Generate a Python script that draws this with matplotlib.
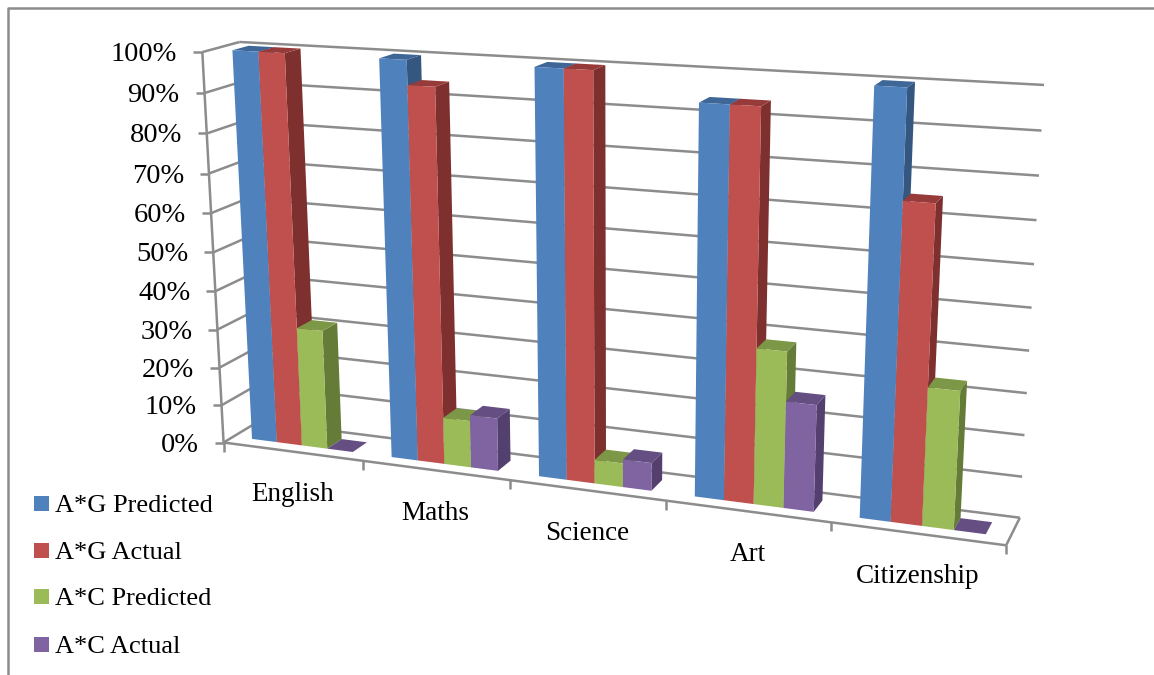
import matplotlib
matplotlib.use('Agg')
import matplotlib.pyplot as plt
from matplotlib.patches import Polygon, Rectangle
import numpy as np

plt.rcParams['font.family'] = ['Liberation Serif', 'DejaVu Serif']

categories = ['English', 'Maths', 'Science', 'Art', 'Citizenship']
series = ['A*G Predicted', 'A*G Actual', 'A*C Predicted', 'A*C Actual']
ag_predicted = [100, 100, 100, 94, 100]
ag_actual = [100, 94, 100, 94, 75]
ac_predicted = [31, 12, 6, 38, 33]
ac_actual = [0, 13.5, 7, 26, 0]
values = [ag_predicted, ag_actual, ac_predicted, ac_actual]
ticks = list(range(0, 101, 10))

front_cols = ['#4F81BD', '#C0504D', '#9BBB59', '#8064A2']
side_cols = ['#34567F', '#7D302E', '#657B38', '#54406E']
top_cols = ['#3E6696', '#963B39', '#7C9746', '#644E82']
grid_col = '#8C8C8C'

# corners of the chart box: (category pos, value, depth) -> pixel
box = [((0, 0, 0), (224, 442)), ((0, 100, 0), (202, 52)),
       ((0, 0, 1), (258, 422)), ((0, 100, 1), (240, 42)),
       ((5, 0, 1), (1020, 517)), ((5, 100, 1), (1044, 85)),
       ((5, 0, 0), (1006, 546))]

A, b = [], []
for (u, v, d), (x, y) in box:
    A.append([u, v, d, 1, 0, 0, 0, 0, -x * u, -x * v, -x * d])
    b.append(x)
    A.append([0, 0, 0, 0, u, v, d, 1, -y * u, -y * v, -y * d])
    b.append(y)
p = np.linalg.lstsq(np.array(A, float), np.array(b, float), rcond=None)[0]
P = np.append(p, 1).reshape(3, 4)


def project(u, v, d):
    q = P @ np.array([u, v, d, 1.0])
    return q[0] / q[2], q[1] / q[2]


fig = plt.figure(figsize=(11.54, 6.75), dpi=100)
ax = fig.add_axes([0, 0, 1, 1])
ax.set_xlim(0, 1154)
ax.set_ylim(675, 0)
ax.axis('off')


def line(a, b, lw=1.8, col=grid_col):
    ax.plot([a[0], b[0]], [a[1], b[1]], color=col, lw=lw, solid_capstyle='butt', zorder=1)


# outer frame
ax.plot([8, 8, 1154], [675, 8, 8], color='#8C8C8C', lw=1.8, zorder=1)

# walls
for t in ticks:
    line(project(0, t, 0), project(0, t, 1))
    line(project(0, t, 1), project(5, t, 1))
    x, y = project(0, t, 0)
    line((x - 9, y), (x, y))
    ax.text(x - 25, y + 2.5, '%d%%' % t, ha='right', va='center', fontsize=20.5, color='black')

line(project(0, 0, 0), project(0, 100, 0))
line(project(0, 0, 0), project(5, 0, 0))
line(project(5, 0, 0), project(5, 0, 1))

for i in range(6):
    x, y = project(i, 0, 0)
    line((x, y), (x, y + 9))

for i, name in enumerate(categories):
    x, y = project(i + 0.5, 0, 0)
    ax.text(x, y + 43, name, ha='center', va='center', fontsize=19.5, color='black')

# bars
gap = 1.5
bw = 1 / (4 + gap)
d0, d1 = 0.28, 0.72
z = 2
for i in range(len(categories)):
    for s in range(4):
        u0 = i + (gap / 2 + s) * bw
        u1 = u0 + bw
        v = values[s][i]
        side = [project(u1, 0, d0), project(u1, 0, d1), project(u1, v, d1), project(u1, v, d0)]
        top = [project(u0, v, d0), project(u1, v, d0), project(u1, v, d1), project(u0, v, d1)]
        front = [project(u0, 0, d0), project(u1, 0, d0), project(u1, v, d0), project(u0, v, d0)]
        ax.add_patch(Polygon(side, fc=side_cols[s], ec='none', zorder=z))
        ax.add_patch(Polygon(top, fc=top_cols[s], ec='none', zorder=z + 1))
        ax.add_patch(Polygon(front, fc=front_cols[s], ec='none', zorder=z + 2))
        z += 3

# legend
leg_y = [504, 551, 597, 645]
for name, col, y in zip(series, front_cols, leg_y):
    ax.add_patch(Rectangle((34, y - 8), 15, 15, fc=col, ec='none', zorder=2))
    ax.text(55, y + 2, name, ha='left', va='center', fontsize=19, color='black')

fig.savefig('out.png', dpi=100)
